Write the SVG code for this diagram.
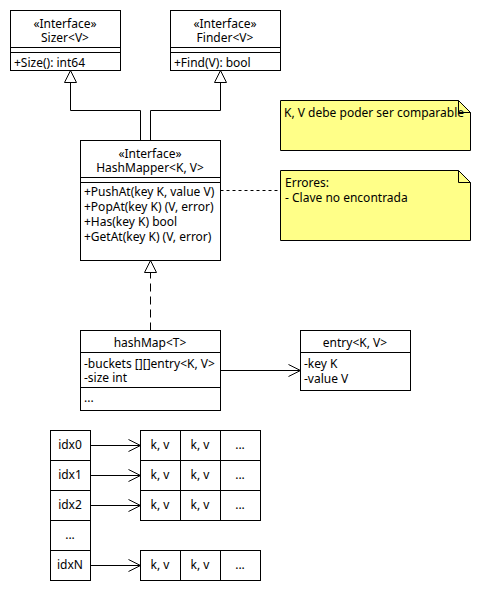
<svg xmlns="http://www.w3.org/2000/svg" width="480" height="590" viewBox="0 0 480 590">
<defs>
<style>
.b{fill:#fff;stroke:#000;stroke-width:1}
.l{fill:none;stroke:#000;stroke-width:1}
.n{fill:#ffff88;stroke:#000;stroke-width:1}
text{font-family:"Noto Sans","Open Sans",sans-serif;font-size:12px;fill:#000}
.c{text-anchor:middle}
</style>
<marker id="tri" markerWidth="14" markerHeight="14" refX="13" refY="7" orient="auto" markerUnits="userSpaceOnUse">
<path d="M1,1 L13,7 L1,13 Z" fill="#fff" stroke="#000"/>
</marker>
<marker id="open" markerWidth="14" markerHeight="14" refX="13" refY="7" orient="auto" markerUnits="userSpaceOnUse">
<path d="M1,1 L13,7 L1,13" fill="none" stroke="#000"/>
</marker>
</defs>
<rect width="480" height="590" fill="#fff"/>
<g id="connectors">
<path class="l" d="M140.5,140.5 V110.5 H70.5 V70.5" marker-end="url(#tri)"/>
<path class="l" d="M150.5,140.5 V110.5 H220.5 V70.5" marker-end="url(#tri)"/>
<path class="l" d="M150.5,330.5 V260.5" stroke-dasharray="8,5" marker-end="url(#tri)"/>
<path class="l" d="M220.5,190.5 H280.5" stroke-dasharray="3,3"/>
<path class="l" d="M220.5,370.5 H300.5" marker-end="url(#open)"/>
<path class="l" d="M90.5,445.5 H140.5" marker-end="url(#open)"/>
<path class="l" d="M90.5,475.5 H140.5" marker-end="url(#open)"/>
<path class="l" d="M90.5,505.5 H140.5" marker-end="url(#open)"/>
<path class="l" d="M90.5,565.5 H140.5" marker-end="url(#open)"/>
</g>
<g id="sizer">
<rect class="b" x="10.5" y="10.5" width="110" height="60"/>
<path class="l" d="M10.5,47.5 H120.5 M10.5,52.5 H120.5"/>
<text class="c" x="65" y="28">«Interface»<tspan x="65" dy="14">Sizer&lt;V&gt;</tspan></text>
<text x="14" y="67">+Size(): int64</text>
</g>
<g id="finder">
<rect class="b" x="170.5" y="10.5" width="110" height="60"/>
<path class="l" d="M170.5,47.5 H280.5 M170.5,52.5 H280.5"/>
<text class="c" x="225" y="28">«Interface»<tspan x="225" dy="14">Finder&lt;V&gt;</tspan></text>
<text x="174" y="67">+Find(V): bool</text>
</g>
<g id="hashmapper">
<rect class="b" x="80.5" y="140.5" width="140" height="120"/>
<path class="l" d="M80.5,177.5 H220.5 M80.5,182.5 H220.5"/>
<text class="c" x="150" y="158">«Interface»<tspan x="150" dy="14">HashMapper&lt;K, V&gt;</tspan></text>
<text x="84" y="196">+PushAt(key K, value V)<tspan x="84" dy="15">+PopAt(key K) (V, error)</tspan><tspan x="84" dy="15">+Has(key K) bool</tspan><tspan x="84" dy="15">+GetAt(key K) (V, error)</tspan></text>
</g>
<g id="note1">
<path class="n" d="M280.5,100.5 H458.5 L470.5,112.5 V150.5 H280.5 Z"/>
<path class="l" d="M458.5,100.5 V112.5 H470.5"/>
<text x="284" y="117">K, V debe poder ser comparable</text>
</g>
<g id="note2">
<path class="n" d="M280.5,170.5 H458.5 L470.5,182.5 V240.5 H280.5 Z"/>
<path class="l" d="M458.5,170.5 V182.5 H470.5"/>
<text x="285" y="187">Errores:<tspan x="285" dy="15">- Clave no encontrada</tspan></text>
</g>
<g id="hashmap">
<rect class="b" x="80.5" y="330.5" width="140" height="80"/>
<path class="l" d="M80.5,352.5 H220.5 M80.5,387.5 H220.5"/>
<text class="c" x="150" y="347">hashMap&lt;T&gt;</text>
<text x="84" y="368">-buckets [][]entry&lt;K, V&gt;<tspan x="84" dy="14">-size int</tspan></text>
<text x="84" y="402">...</text>
</g>
<g id="entry">
<rect class="b" x="300.5" y="330.5" width="110" height="60"/>
<path class="l" d="M300.5,352.5 H410.5"/>
<text class="c" x="355" y="347">entry&lt;K, V&gt;</text>
<text x="304" y="368">-key K<tspan x="304" dy="15">-value V</tspan></text>
</g>
<g id="idx">
<rect class="b" x="50.5" y="430.5" width="40" height="30"/>
<rect class="b" x="50.5" y="460.5" width="40" height="30"/>
<rect class="b" x="50.5" y="490.5" width="40" height="30"/>
<rect class="b" x="50.5" y="520.5" width="40" height="30"/>
<rect class="b" x="50.5" y="550.5" width="40" height="30"/>
<text class="c" x="70" y="449">idx0</text>
<text class="c" x="70" y="479">idx1</text>
<text class="c" x="70" y="509">idx2</text>
<text class="c" x="70" y="539">...</text>
<text class="c" x="70" y="569">idxN</text>
</g>
<g id="bucket0">
<rect class="b" x="140.5" y="430.5" width="40" height="30"/>
<rect class="b" x="180.5" y="430.5" width="40" height="30"/>
<rect class="b" x="220.5" y="430.5" width="40" height="30"/>
<text class="c" x="160" y="449">k, v</text>
<text class="c" x="200" y="449">k, v</text>
<text class="c" x="240" y="449">...</text>
</g>
<g id="bucket1">
<rect class="b" x="140.5" y="460.5" width="40" height="30"/>
<rect class="b" x="180.5" y="460.5" width="40" height="30"/>
<rect class="b" x="220.5" y="460.5" width="40" height="30"/>
<text class="c" x="160" y="479">k, v</text>
<text class="c" x="200" y="479">k, v</text>
<text class="c" x="240" y="479">...</text>
</g>
<g id="bucket2">
<rect class="b" x="140.5" y="490.5" width="40" height="30"/>
<rect class="b" x="180.5" y="490.5" width="40" height="30"/>
<rect class="b" x="220.5" y="490.5" width="40" height="30"/>
<text class="c" x="160" y="509">k, v</text>
<text class="c" x="200" y="509">k, v</text>
<text class="c" x="240" y="509">...</text>
</g>
<g id="bucketN">
<rect class="b" x="140.5" y="550.5" width="40" height="30"/>
<rect class="b" x="180.5" y="550.5" width="40" height="30"/>
<rect class="b" x="220.5" y="550.5" width="40" height="30"/>
<text class="c" x="160" y="569">k, v</text>
<text class="c" x="200" y="569">k, v</text>
<text class="c" x="240" y="569">...</text>
</g>
</svg>
